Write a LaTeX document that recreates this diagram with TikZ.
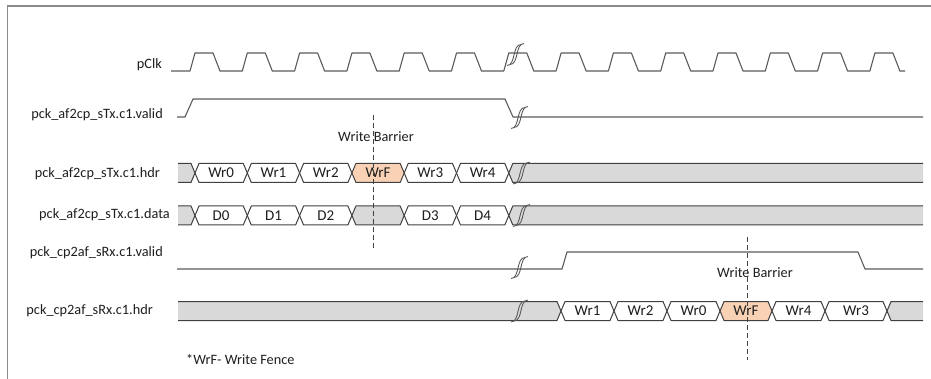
\documentclass[tikz,border=0pt]{standalone}
\usepackage{fontspec}
\setmainfont{Carlito}
\definecolor{wavec}{HTML}{5A5A5A}
\definecolor{busc}{HTML}{404040}
\definecolor{busfill}{HTML}{D9D9D9}
\definecolor{fencefill}{HTML}{F9D2B6}
\definecolor{framec}{HTML}{8A8A8A}
\definecolor{txtc}{HTML}{1E1E1E}
\tikzset{
  wave/.style={draw=wavec, line width=1.1pt, line join=round},
  busline/.style={draw=busc, line width=1.0pt, line join=round},
  lbl/.style={font=\fontsize{14.3}{17}\selectfont, text=txtc, inner sep=0pt},
  boxlbl/.style={font=\fontsize{15}{17}\selectfont, text=txtc, inner sep=0pt},
  barrier/.style={draw=busc, line width=1.0pt, dash pattern=on 5pt off 3pt},
  brkline/.style={draw=wavec, line width=0.9pt}
}
% bus segment: #1 name, #2 x0, #3 x1, #4 yc, #5 fill, #6 text
\newcommand{\busseg}[6]{%
  \draw[busline, fill=#5] (#2,#4) -- (#2+4,#4-9.5) -- (#3-4,#4-9.5) -- (#3,#4) -- (#3-4,#4+9.5) -- (#2+4,#4+9.5) -- cycle;
  \node[boxlbl] (#1) at ({(#2+#3)/2},#4) {#6};}
% grey start: x0 x1 yc
\newcommand{\grayleft}[3]{%
  \fill[busfill] (#1,#3-9.5) -- (#2-4,#3-9.5) -- (#2,#3) -- (#2-4,#3+9.5) -- (#1,#3+9.5) -- cycle;
  \draw[busline] (#1,#3-9.5) -- (#2-4,#3-9.5) -- (#2,#3) -- (#2-4,#3+9.5) -- (#1,#3+9.5);}
% grey end: x0 x1 yc
\newcommand{\grayright}[3]{%
  \fill[busfill] (#2,#3-9.5) -- (#1+4,#3-9.5) -- (#1,#3) -- (#1+4,#3+9.5) -- (#2,#3+9.5) -- cycle;
  \draw[busline] (#2,#3-9.5) -- (#1+4,#3-9.5) -- (#1,#3) -- (#1+4,#3+9.5) -- (#2,#3+9.5);}
% break mark: x y
\newcommand{\brkmark}[2]{%
  \draw[brkline] (#1-8,#2+11) .. controls (#1+1,#2+11) and (#1-3,#2-10) .. (#1+6,#2-10);
  \draw[brkline] (#1-5,#2+10) .. controls (#1+4,#2+10) and (#1,#2-11) .. (#1+9,#2-11);}
\begin{document}
\begin{tikzpicture}[x=1pt,y=-1pt]
\useasboundingbox (0,0) rectangle (931,379);
% frame
\draw[framec, line width=1.5pt] (7.5,379) -- (7.5,6) -- (931,6);

% signal labels
\node[lbl, anchor=base east] (lclk) at (162,69) {pClk};
\node[lbl, anchor=base east] (ltxv) at (163,118.5) {pck\_af2cp\_sTx.c1.valid};
\node[lbl, anchor=base east] (ltxh) at (160,178) {pck\_af2cp\_sTx.c1.hdr};
\node[lbl, anchor=base east] (ltxd) at (170,219) {pck\_af2cp\_sTx.c1.data};
\node[lbl, anchor=base east] (lrxv) at (163,257) {pck\_cp2af\_sRx.c1.valid};
\node[lbl, anchor=base east] (lrxh) at (153,314) {pck\_cp2af\_sRx.c1.hdr};

% clock
\draw[wave] (171,71)
  \foreach \k in {0,...,13} {
    -- ({190+52.3*\k},71) -- ({195+52.3*\k},53) -- ({213+52.3*\k},53) -- ({220+52.3*\k},71)
  } -- (905,71);
\brkmark{515}{54.5}

% sTx valid
\draw[wave] (177,117) -- (185,117) -- (193,99) -- (505,99) -- (513,117) -- (923,117);
\brkmark{519}{117.5}

% sTx hdr
\grayleft{178}{195}{173}
\busseg{w0}{195}{247.3}{173}{white}{Wr0}
\busseg{w1}{247.3}{299.6}{173}{white}{Wr1}
\busseg{w2}{299.6}{351.9}{173}{white}{Wr2}
\busseg{wf}{351.9}{404.2}{173}{fencefill}{WrF}
\busseg{w3}{404.2}{456.5}{173}{white}{Wr3}
\busseg{w4}{456.5}{508.8}{173}{white}{Wr4}
\grayright{508.8}{923}{173}
\brkmark{521}{173}

% sTx data
\grayleft{178}{195}{215.5}
\busseg{d0}{195}{247.3}{215.5}{white}{D0}
\busseg{d1}{247.3}{299.6}{215.5}{white}{D1}
\busseg{d2}{299.6}{351.9}{215.5}{white}{D2}
\busseg{dg}{351.9}{404.2}{215.5}{busfill}{}
\busseg{d3}{404.2}{456.5}{215.5}{white}{D3}
\busseg{d4}{456.5}{508.8}{215.5}{white}{D4}
\grayright{508.8}{923}{215.5}
\brkmark{521}{215.5}

% sRx valid
\draw[wave] (177,269) -- (562,269) -- (567,252) -- (858,252) -- (865,269) -- (923,269);
\brkmark{519}{267.5}

% sRx hdr
\grayleft{178}{561}{311}
\busseg{r1}{561}{614}{311}{white}{Wr1}
\busseg{r2}{614}{667}{311}{white}{Wr2}
\busseg{r0}{667}{720}{311}{white}{Wr0}
\busseg{rf}{720}{772}{311}{fencefill}{WrF}
\busseg{r4}{772}{825}{311}{white}{Wr4}
\busseg{r3}{825}{887}{311}{white}{Wr3}
\grayright{887}{923}{311}
\brkmark{519}{311}

% write barriers
\node[lbl, anchor=base west] (wb1) at (338,141.5) {Write Barrier};
\node[lbl, anchor=base west] (wb2) at (717,277.5) {Write Barrier};
\draw[barrier] (373,115) -- (373,248);
\draw[barrier] (747,237) -- (747,360);

% footnote
\node[lbl, anchor=base west] (fn) at (186,364.5) {*WrF- Write Fence};
\end{tikzpicture}
\end{document}
